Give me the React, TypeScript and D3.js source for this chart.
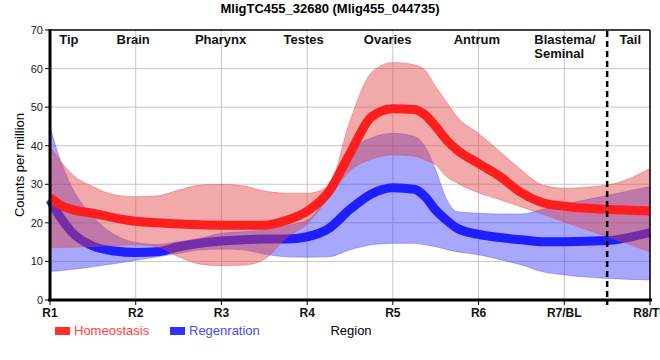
import React from "react";
import * as d3 from "d3";

const title = "MligTC455_32680 (Mlig455_044735)";
const tickLabels = ["R1", "R2", "R3", "R4", "R5", "R6", "R7/BL", "R8/TL"];
const yTicks = [0, 10, 20, 30, 40, 50, 60, 70];
const regionNames = ["Tip", "Brain", "Pharynx", "Testes", "Ovaries", "Antrum", "Tail"];
const regionAt = [0.22, 0.97, 1.99, 2.96, 3.94, 4.98, 6.77];
const blastemaAt = 5.65;
const dividerAt = 6.5;

const xs = [0, 0.125, 0.25, 0.5, 0.75, 1, 1.25, 1.5, 1.75, 2, 2.25, 2.5, 2.75, 3, 3.25, 3.5, 3.75, 4, 4.25, 4.375, 4.5, 4.625, 4.75, 5, 5.25, 5.5, 5.75, 6, 6.5, 7];
const homeoMid = [26.6, 24.6, 23.5, 22.5, 21.3, 20.4, 20.0, 19.7, 19.5, 19.4, 19.4, 19.4, 20.6, 23.0, 28.0, 38.0, 47.5, 49.6, 49.4, 48.0, 45.0, 41.5, 38.9, 35.4, 32.0, 27.8, 25.2, 24.3, 23.5, 23.1];
const homeoHi = [39.8, 36.0, 32.8, 29.4, 27.3, 26.8, 27.0, 28.5, 29.8, 30.0, 29.6, 28.3, 27.7, 27.7, 29.5, 46.5, 59.0, 61.6, 61.0, 59.6, 55.3, 51.4, 47.5, 43.2, 38.5, 33.7, 29.8, 29.0, 29.8, 34.1];
const homeoLo = [13.5, 13.6, 13.7, 13.9, 14.1, 14.3, 13.8, 11.2, 9.3, 8.9, 9.0, 10.5, 16.0, 19.7, 26.5, 33.5, 36.5, 37.6, 37.3, 36.3, 35.0, 32.0, 30.3, 27.8, 26.0, 24.1, 22.2, 20.2, 16.4, 12.5];
const regenMid = [26.0, 21.3, 17.7, 14.0, 12.7, 12.3, 12.5, 13.8, 14.7, 15.3, 15.6, 15.8, 15.8, 16.4, 18.5, 23.5, 27.5, 29.1, 28.7, 26.8, 23.3, 20.7, 18.6, 17.0, 16.2, 15.6, 15.1, 15.1, 15.4, 17.5];
const regenHi = [45.0, 36.0, 29.5, 21.6, 17.0, 14.9, 14.4, 15.1, 16.0, 17.3, 17.7, 18.2, 19.3, 20.7, 27.5, 38.5, 42.0, 43.2, 42.4, 39.8, 33.7, 26.2, 22.9, 22.5, 22.3, 22.3, 23.5, 24.8, 27.1, 29.4];
const regenLo = [7.4, 7.6, 7.9, 8.6, 9.4, 10.3, 11.2, 12.1, 13.0, 13.2, 13.0, 11.9, 11.2, 11.1, 11.2, 13.0, 14.3, 14.7, 14.7, 14.3, 13.8, 13.1, 12.5, 11.7, 10.5, 9.1, 7.3, 6.5, 5.6, 5.2];

const FONT = "'Liberation Sans', Arial, sans-serif";

export default function App() {
  const x = d3.scaleLinear().domain([0, 7]).range([50, 650]);
  const y = d3.scaleLinear().domain([0, 70]).range([300, 30]);
  const idx = xs.map((_, i) => i);

  const area = (lo: number[], hi: number[]) =>
    d3
      .area<number>()
      .x((i) => x(xs[i]))
      .y0((i) => y(lo[i]))
      .y1((i) => y(hi[i]))
      .curve(d3.curveMonotoneX)(idx) || "";
  const line = (v: number[]) =>
    d3
      .line<number>()
      .x((i) => x(xs[i]))
      .y((i) => y(v[i]))
      .curve(d3.curveMonotoneX)(idx) || "";

  const gridX = d3.range(1, 7);

  return (
    <svg
      width={660}
      height={360}
      style={{ position: "absolute", left: 0, top: 0, background: "#fff" }}
      fontFamily={FONT}
    >
      <text x={330} y={13} textAnchor="middle" fontWeight="bold" fontSize={13} fill="#000">
        {title}
      </text>

      {/* grid */}
      {yTicks.slice(1, -1).map((t) => (
        <line key={"gy" + t} x1={50} x2={650} y1={y(t)} y2={y(t)} stroke="#c8c8c8" strokeWidth={1} />
      ))}
      {gridX.map((g) => (
        <line key={"gx" + g} x1={x(g)} x2={x(g)} y1={30} y2={300} stroke="#c8c8c8" strokeWidth={1} />
      ))}

      {/* regeneration */}
      <path d={area(regenLo, regenHi)} fill="rgb(60,60,250)" fillOpacity={0.45} stroke="rgb(60,60,250)" strokeOpacity={0.35} strokeWidth={1} />
      <path d={line(regenMid)} fill="none" stroke="#1e1eff" strokeWidth={9} />
      {/* homeostasis */}
      <path d={area(homeoLo, homeoHi)} fill="rgb(225,65,65)" fillOpacity={0.45} stroke="rgb(225,65,65)" strokeOpacity={0.35} strokeWidth={1} />
      <path d={line(homeoMid)} fill="none" stroke="#ff1e1e" strokeWidth={9} />

      {/* frame */}
      <line x1={50} x2={650} y1={30} y2={30} stroke="#000" strokeWidth={1.5} />
      <line x1={650} x2={650} y1={30} y2={300} stroke="#000" strokeWidth={1.5} />
      <line x1={50} x2={50} y1={29} y2={301} stroke="#000" strokeWidth={3} />
      <line x1={48} x2={652} y1={300} y2={300} stroke="#000" strokeWidth={3} />

      {/* divider */}
      <line x1={x(dividerAt)} x2={x(dividerAt)} y1={31} y2={305} stroke="#000" strokeWidth={2.5} strokeDasharray="6,4" />

      {/* y ticks */}
      {yTicks.map((t) => (
        <g key={"yt" + t}>
          <line x1={45} x2={50} y1={y(t)} y2={y(t)} stroke="#000" strokeWidth={1} />
          <text x={43} y={y(t) + 4} textAnchor="end" fontSize={11} fill="#222">
            {t}
          </text>
        </g>
      ))}
      {/* x ticks */}
      {tickLabels.map((t, i) => (
        <g key={"xt" + t}>
          <line x1={x(i)} x2={x(i)} y1={300} y2={305} stroke="#000" strokeWidth={1} />
          <text x={x(i)} y={317} textAnchor="middle" fontSize={12} fontWeight="bold" fill="#111">
            {t}
          </text>
        </g>
      ))}

      {/* region labels */}
      {regionNames.map((r, i) => (
        <text key={r} x={x(regionAt[i])} y={44} textAnchor="middle" fontSize={13} fontWeight="bold" fill="#111">
          {r}
        </text>
      ))}
      <text x={x(blastemaAt)} y={44} fontSize={13} fontWeight="bold" fill="#111">
        Blastema/
      </text>
      <text x={x(blastemaAt)} y={58} fontSize={13} fontWeight="bold" fill="#111">
        Seminal
      </text>

      {/* axis titles */}
      <text transform="translate(24,165) rotate(-90)" textAnchor="middle" fontSize={13} fill="#000">
        Counts per million
      </text>
      <text x={351} y={335} textAnchor="middle" fontSize={13} fill="#000">
        Region
      </text>

      {/* legend */}
      <rect x={55} y={327} width={15} height={8} fill="#ff3030" />
      <text x={74} y={335} fontSize={13} fill="#ff4040">
        Homeostasis
      </text>
      <rect x={170} y={327} width={15} height={8} fill="#3030ff" />
      <text x={189} y={335} fontSize={13} fill="#4848ff">
        Regenration
      </text>
    </svg>
  );
}
